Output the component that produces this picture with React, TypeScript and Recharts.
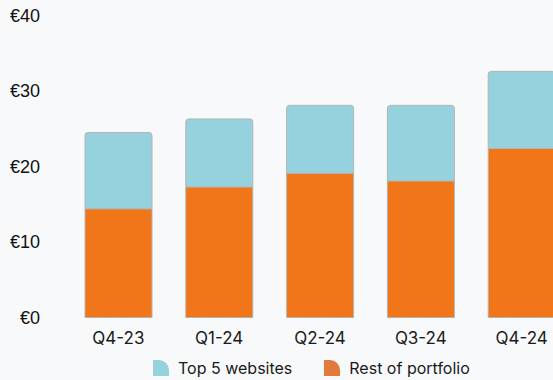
import { Bar, BarChart, Legend, XAxis, YAxis } from "recharts"

const QUARTERS = ["Q4-23", "Q1-24", "Q2-24", "Q3-24", "Q4-24"]
const REST_OF_PORTFOLIO = [14.4, 17.3, 19.1, 18.1, 22.4]
const TOP_5_WEBSITES = [10.1, 9.0, 9.0, 10.0, 10.2]
const Y_TICKS = [0, 10, 20, 30, 40]

const BLUE = "#96D2DE"
const ORANGE = "#F07619"
const ORANGE_LEGEND = "#E27A3C"
const BAR_STROKE = "#B4B4B4"
const PAGE_BG = "#F8F9FB"

if (typeof document !== "undefined") {
  document.body.style.margin = "0"
  document.body.style.background = PAGE_BG
}

const chartData = QUARTERS.map((quarter, i) => ({
  quarter,
  rest: REST_OF_PORTFOLIO[i],
  top5: TOP_5_WEBSITES[i],
}))

const legendItems = [
  { label: "Top 5 websites", color: BLUE },
  { label: "Rest of portfolio", color: ORANGE_LEGEND },
]

function LegendIcon({ color }: { color: string }) {
  return (
    <svg width={16} height={16} viewBox="0 0 16 16" style={{ display: "block" }}>
      <path d="M0 0 H6 A10 10 0 0 1 16 10 V16 H0 Z" fill={color} />
    </svg>
  )
}

function PortfolioLegend() {
  return (
    <div style={{ display: "flex", alignItems: "center", paddingLeft: 153, height: 24 }}>
      {legendItems.map((item, i) => (
        <div
          key={item.label}
          style={{ display: "flex", alignItems: "center", marginLeft: i === 0 ? 0 : 32 }}
        >
          <LegendIcon color={item.color} />
          <span
            style={{
              marginLeft: 9,
              fontFamily: "Inter, sans-serif",
              fontSize: 16,
              color: "#1a1a1a",
              lineHeight: "16px",
            }}
          >
            {item.label}
          </span>
        </div>
      ))}
    </div>
  )
}

export default function App() {
  return (
    <div style={{ width: 553, height: 380, overflow: "hidden", background: PAGE_BG }}>
      <BarChart
        width={580}
        height={380}
        data={chartData}
        margin={{ top: 15.5, right: 8, left: 0, bottom: 0 }}
      >
        <XAxis
          dataKey="quarter"
          height={38.5}
          tickLine={false}
          axisLine={false}
          tickMargin={8}
          tick={{ fontSize: 17, fill: "#1a1a1a", fontFamily: "Inter, sans-serif" }}
        />
        <YAxis
          width={68}
          domain={[0, 40]}
          ticks={Y_TICKS}
          tickLine={false}
          axisLine={false}
          tickMargin={22}
          tickFormatter={(value) => `€${value}`}
          tick={{ fontSize: 18, fill: "#111", fontFamily: "'Liberation Sans', Arial, sans-serif" }}
        />
        <Legend
          verticalAlign="bottom"
          content={() => <PortfolioLegend />}
          wrapperStyle={{ left: 0, width: 553 }}
        />
        <Bar
          dataKey="rest"
          stackId="a"
          fill={ORANGE}
          stroke={BAR_STROKE}
          strokeWidth={1}
          barSize={67}
          isAnimationActive={false}
        />
        <Bar
          dataKey="top5"
          stackId="a"
          fill={BLUE}
          stroke={BAR_STROKE}
          strokeWidth={1}
          barSize={67}
          radius={[3, 3, 0, 0]}
          isAnimationActive={false}
        />
      </BarChart>
    </div>
  )
}
